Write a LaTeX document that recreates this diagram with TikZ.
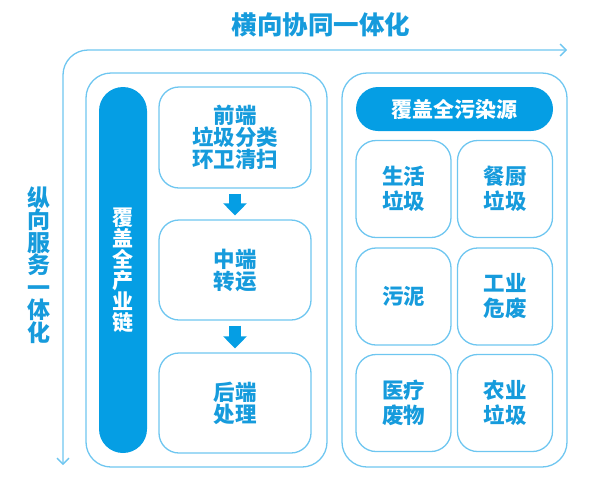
\documentclass[tikz,border=0pt]{standalone}
\usepackage{fontspec}
\setmainfont{Noto Sans CJK SC}
\usetikzlibrary{arrows.meta}
\definecolor{lineblue}{RGB}{110,198,240}
\definecolor{fillblue}{RGB}{5,158,228}
\definecolor{textblue}{RGB}{22,155,220}
\begin{document}
\begin{tikzpicture}[x=1pt, y=-1pt, >={Straight Barb[length=6pt,width=12pt]},
	box/.style={draw=lineblue, line width=1.3pt, rounded corners=20pt, text=textblue, align=center, inner sep=0pt, font=\fontsize{21.5}{22}\selectfont\bfseries},
	srcbox/.style={box, minimum width=95pt, minimum height=97pt, font=\fontsize{21.5}{25}\selectfont\bfseries},
	group/.style={draw=lineblue, line width=1.3pt, rounded corners=25pt, minimum width=#1, minimum height=394pt, inner sep=0pt},
	pill/.style={fill=fillblue, text=white, align=center, inner sep=0pt, font=\fontsize{21}{21}\selectfont\bfseries},
	flow/.style={fillblue, line width=12pt, -{Triangle[width=23pt,length=12pt]}, shorten <=5pt, shorten >=4pt}]
	\useasboundingbox (0,0) rectangle (597,491);
	\coordinate (vend) at (63,465);
	\coordinate (corner) at (63,50);
	\coordinate (hend) at (567,50);
	\draw[lineblue, line width=1.3pt, rounded corners=25pt, <->] (vend) -- (corner) -- (hend);
	\node (htitle) at (321,25) [text=textblue, font=\fontsize{25.5}{25.5}\selectfont\bfseries] {横向协同一体化};
	\node (vtitle) at (39,265) [text=textblue, align=center, font=\fontsize{23}{22.5}\selectfont\bfseries] {纵\\向\\服\\务\\一\\体\\化};

	\node (chaingroup) at (206.5,270) [group=241pt] {};
	\node (chain) at (123,270) [pill, rounded corners=24pt, minimum width=48pt, minimum height=366pt] {覆\\盖\\全\\产\\业\\链};
	\node (front) at (235,137.5) [box, minimum width=152pt, minimum height=101pt] {前端\\垃圾分类\\环卫清扫};
	\node (middle) at (235,270) [box, minimum width=152pt, minimum height=100pt] {中端\\转运};
	\node (back) at (235,403) [box, minimum width=152pt, minimum height=100pt] {后端\\处理};
	\draw[flow] (front) -- (middle);
	\draw[flow] (middle) -- (back);

	\node (srcgroup) at (454.5,270) [group=225pt] {};
	\node (source) at (454.5,109) [pill, rounded corners=22pt, minimum width=197pt, minimum height=44pt] {覆盖全污染源};
	\node (domestic) at (403.5,189) [srcbox] {生活\\垃圾};
	\node (kitchen) at (505,189) [srcbox] {餐厨\\垃圾};
	\node (sludge) at (403.5,296.5) [srcbox] {污泥};
	\node (industry) at (505,296.5) [srcbox] {工业\\危废};
	\node (medical) at (403.5,403) [srcbox] {医疗\\废物};
	\node (farm) at (505,403) [srcbox] {农业\\垃圾};
\end{tikzpicture}
\end{document}
